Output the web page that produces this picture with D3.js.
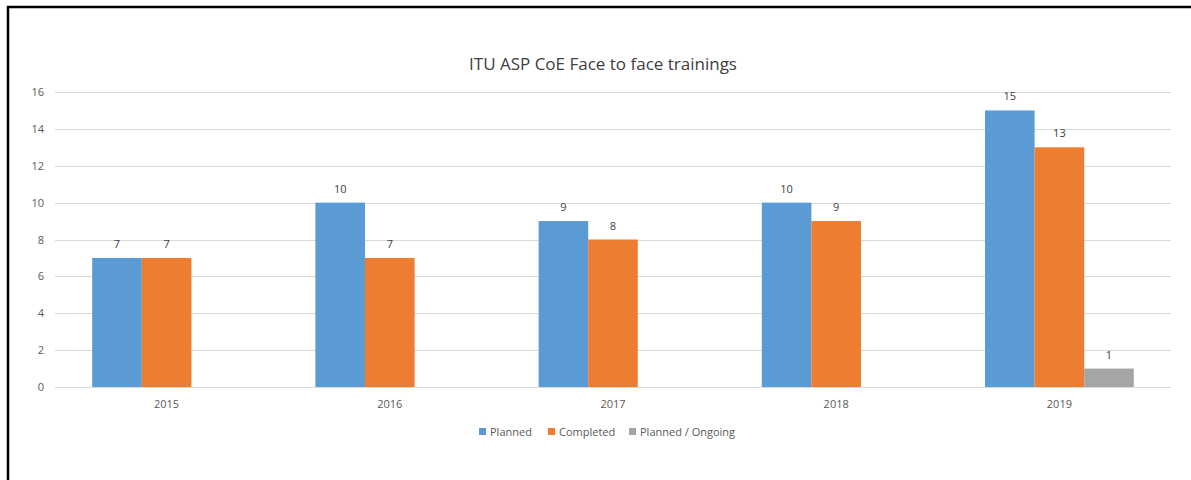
<!DOCTYPE html>
<html>
<head>
<meta charset="utf-8">
<script src="https://cdn.jsdelivr.net/npm/d3@7"></script>
<style>
  body { margin: 0; background: #fff; }
  svg { display: block; font-family: "Open Sans", sans-serif; }
</style>
</head>
<body>
<div id="chart"></div>
<script>
// chart data
var years = ['2015', '2016', '2017', '2018', '2019'];
var planned = [7, 10, 9, 10, 15];
var completed = [7, 7, 8, 9, 13];
var ongoing = [null, null, null, null, 1];
var seriesNames = ['Planned', 'Completed', 'Planned / Ongoing'];
var yTicks = [0, 2, 4, 6, 8, 10, 12, 14, 16];

var colors = ['#5b9bd5', '#ed7d31', '#a5a5a5'];
var W = 1191, H = 480;
var plot = { left: 55, right: 1171, top: 92, bottom: 387 };

var svg = d3.select('#chart').append('svg')
  .attr('width', W).attr('height', H);

// frame (left + top edges of the screenshot border)
svg.append('rect').attr('x', 0).attr('y', 0).attr('width', W).attr('height', H).attr('fill', '#fff');
svg.append('line').attr('x1', 8).attr('x2', 8).attr('y1', 6).attr('y2', H)
  .attr('stroke', '#000').attr('stroke-width', 2.5);
svg.append('line').attr('x1', 7).attr('x2', W).attr('y1', 7).attr('y2', 7)
  .attr('stroke', '#000').attr('stroke-width', 2.5);

var x = d3.scaleBand().domain(years).range([plot.left, plot.right]).paddingInner(0).paddingOuter(0);
var groupW = x.bandwidth() * 3 / 4.5;   // gap width 50%
var x1 = d3.scaleBand().domain([0, 1, 2]).range([0, groupW]);
var y = d3.scaleLinear().domain([0, 16]).range([plot.bottom, plot.top]);

// gridlines
svg.append('g').selectAll('line').data(yTicks).enter().append('line')
  .attr('x1', plot.left).attr('x2', plot.right)
  .attr('y1', function(d) { return Math.round(y(d)) + 0.5; })
  .attr('y2', function(d) { return Math.round(y(d)) + 0.5; })
  .attr('stroke', '#d9d9d9').attr('stroke-width', 1);

// y axis labels
svg.append('g').selectAll('text').data(yTicks).enter().append('text')
  .attr('x', 44).attr('y', function(d) { return y(d) + 4; })
  .attr('text-anchor', 'end')
  .attr('fill', '#595959').attr('font-size', 11)
  .text(function(d) { return d; });

// x axis labels
svg.append('g').selectAll('text').data(years).enter().append('text')
  .attr('x', function(d) { return x(d) + x.bandwidth() / 2; })
  .attr('y', 408)
  .attr('text-anchor', 'middle')
  .attr('fill', '#595959').attr('font-size', 11)
  .text(function(d) { return d; });

var series = [planned, completed, ongoing];
var rows = [];
series.forEach(function(vals, s) {
  vals.forEach(function(v, i) {
    if (v != null) rows.push({ s: s, year: years[i], value: v });
  });
});

var offset = (x.bandwidth() - groupW) / 2;

svg.append('g').selectAll('rect').data(rows).enter().append('rect')
  .attr('x', function(d) { return x(d.year) + offset + x1(d.s); })
  .attr('y', function(d) { return y(d.value); })
  .attr('width', x1.bandwidth())
  .attr('height', function(d) { return y(0) - y(d.value); })
  .attr('fill', function(d) { return colors[d.s]; });

// data labels
svg.append('g').selectAll('text').data(rows).enter().append('text')
  .attr('x', function(d) { return x(d.year) + offset + x1(d.s) + x1.bandwidth() / 2; })
  .attr('y', function(d) { return y(d.value) - 10; })
  .attr('text-anchor', 'middle')
  .attr('fill', '#404040').attr('font-size', 11)
  .text(function(d) { return d.value; });

// title
svg.append('text')
  .attr('x', 603).attr('y', 70)
  .attr('text-anchor', 'middle')
  .attr('fill', '#404040').attr('font-size', 17)
  .text('ITU ASP CoE Face to face trainings');

// legend
var legendX = [479, 548, 629];
var legend = svg.append('g').selectAll('g').data(seriesNames).enter().append('g')
  .attr('transform', function(d, i) { return 'translate(' + legendX[i] + ',0)'; });
legend.append('rect').attr('x', 0).attr('y', 428).attr('width', 7).attr('height', 7)
  .attr('fill', function(d, i) { return colors[i]; });
legend.append('text').attr('x', 11).attr('y', 436)
  .attr('fill', '#595959').attr('font-size', 11)
  .text(function(d) { return d; });
</script>
</body>
</html>
